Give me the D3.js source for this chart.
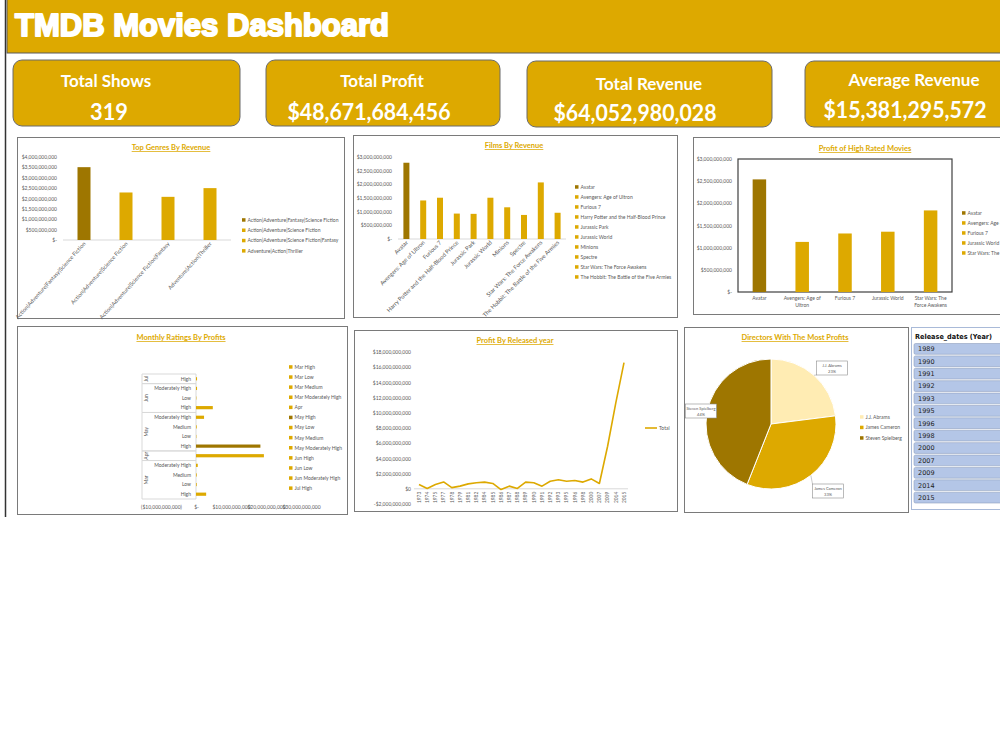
<!DOCTYPE html>
<html>
<head>
<meta charset="utf-8">
<script src="https://cdn.jsdelivr.net/npm/d3@7"></script>
<style>
  body { margin: 0; background: #fff; }
  text { font-family: Lato, "Open Sans", sans-serif; }
</style>
</head>
<body>
<div id="dash"></div>
<script>
// ---- data ----
const kpiLabels = ["Total Shows", "Total Profit", "Total Revenue", "Average Revenue"];
const kpiValues = ["319", "$48,671,684,456", "$64,052,980,028", "$15,381,295,572"];

const genreNames = ["Action|Adventure|Fantasy|Science Fiction", "Action|Adventure|Science Fiction",
    "Action|Adventure|Science Fiction|Fantasy", "Adventure|Action|Thriller"];
const genreRevenue = [3.51e9, 2.29e9, 2.08e9, 2.5e9];

const filmNames = ["Avatar", "Avengers: Age of Ultron", "Furious 7", "Harry Potter and the Half-Blood Prince",
    "Jurassic Park", "Jurassic World", "Minions", "Spectre", "Star Wars: The Force Awakens",
    "The Hobbit: The Battle of the Five Armies"];
const filmRevenue = [2.79e9, 1.41e9, 1.51e9, 0.93e9, 0.92e9, 1.51e9, 1.16e9, 0.88e9, 2.07e9, 0.96e9];

const highRatedNames = ["Avatar", "Avengers: Age of Ultron", "Furious 7", "Jurassic World", "Star Wars: The Force Awakens"];
const highRatedProfit = [2.54e9, 1.13e9, 1.32e9, 1.36e9, 1.84e9];

// bottom to top
const ratingMonths = ["Mar", "Mar", "Mar", "Mar", "Apr", "May", "May", "May", "May", "Jun", "Jun", "Jun", "Jul"];
const ratingLevels = ["High", "Low", "Medium", "Moderately High", "", "High", "Low", "Medium", "Moderately High",
    "High", "Low", "Moderately High", "High"];
const ratingProfit = [2.9e9, 0.2e9, 0.2e9, 0.5e9, 19.4e9, 18.4e9, 0.1e9, 0.2e9, 2.3e9, 4.8e9, 0.1e9, 0.3e9, 0.3e9];

const releaseYears = ["1973", "1974", "1975", "1977", "1978", "1979", "1981", "1982", "1984", "1985", "1986",
    "1987", "1988", "1989", "1990", "1991", "1992", "1993", "1995", "1996", "1998", "2000", "2007", "2009",
    "2014", "2015"];
const yearProfit = [0.57e9, 0.05e9, 0.57e9, 0.9e9, 0.15e9, 0.35e9, 0.65e9, 0.8e9, 0.88e9, 0.7e9, -0.1e9,
    0.35e9, 0.05e9, 0.88e9, 0.8e9, 0.35e9, 1.0e9, 1.2e9, 1.0e9, 1.1e9, 0.88e9, 1.3e9, 0.7e9, 5.6e9,
    11.3e9, 16.6e9];

const directorNames = ["J.J. Abrams", "James Cameron", "Steven Spielberg"];
const directorShare = [23, 33, 44];

const slicerYears = ["1989", "1990", "1991", "1992", "1993", "1995", "1996", "1998", "2000", "2007", "2009", "2014", "2015"];

// ---- styling ----
const GOLD = "#DDA900", DARK = "#9E7600", LIGHT = "#FFECB3", TXT = "#595959";
const fmt = d3.format(",");
const money = d => d === 0 ? "$-" : d < 0 ? "($" + fmt(-d) + ")" : "$" + fmt(d);
const money0 = d => d === 0 ? "$0" : d < 0 ? "-$" + fmt(-d) : "$" + fmt(d);

const svg = d3.select("#dash").append("svg")
    .attr("width", 1000)
    .attr("height", 750);

// left rule and header band
svg.append("line")
    .attr("x1", 5.5).attr("x2", 5.5).attr("y1", 0).attr("y2", 517)
    .attr("stroke", "#333").attr("stroke-width", 1.5);
svg.append("rect")
    .attr("x", 7).attr("y", -1).attr("width", 1000).attr("height", 54)
    .attr("fill", GOLD).attr("stroke", "#5a5a5a");
svg.append("text")
    .attr("x", 15).attr("y", 36)
    .attr("fill", "#fff").attr("stroke", "#fff").attr("stroke-width", 2).attr("stroke-linejoin", "round")
    .attr("font-size", 32).attr("font-weight", "bold")
    .style("font-family", "'Liberation Sans', Arial, sans-serif")
    .attr("textLength", 374).attr("lengthAdjust", "spacingAndGlyphs")
    .text("TMDB Movies Dashboard");

// KPI cards
const cardX = [13, 266, 527, 805], cardW = [227, 234, 245, 215], cardY = [60, 60, 61, 61];
const labelY = [87, 87, 90, 86], valueY = [120, 120, 121, 118];
const labelCx = [106, 382, 649, 914], valueCx = [109, 369, 635, 905];
kpiLabels.forEach((lab, i) => {
    svg.append("rect")
        .attr("x", cardX[i]).attr("y", cardY[i]).attr("width", cardW[i]).attr("height", 66)
        .attr("rx", 9).attr("fill", GOLD).attr("stroke", "#6b6b6b");
    svg.append("text")
        .attr("x", labelCx[i]).attr("y", labelY[i]).attr("text-anchor", "middle")
        .attr("fill", "#fff").attr("font-weight", "bold").attr("font-size", 17)
        .text(lab);
    svg.append("text")
        .attr("x", valueCx[i]).attr("y", valueY[i]).attr("text-anchor", "middle")
        .attr("fill", "#fff").attr("font-weight", "bold").attr("font-size", 23)
        .attr("textLength", i === 0 ? 38 : 163).attr("lengthAdjust", "spacingAndGlyphs")
        .text(kpiValues[i]);
});

function panel(x, y, w, h) {
    svg.append("rect").attr("x", x + 0.5).attr("y", y + 0.5).attr("width", w).attr("height", h)
        .attr("fill", "#fff").attr("stroke", "#7a7a7a");
}
function chartTitle(t, cx, y) {
    svg.append("text").attr("x", cx).attr("y", y).attr("text-anchor", "middle")
        .attr("fill", GOLD).attr("font-weight", "bold").attr("font-size", 7.5)
        .attr("text-decoration", "underline").text(t);
}
function legend(names, colors, lx, ly, step) {
    names.forEach((n, i) => {
        svg.append("rect").attr("x", lx).attr("y", ly + i * step - 1.8).attr("width", 3.5).attr("height", 3.5)
            .attr("fill", colors[i]);
        svg.append("text").attr("x", lx + 5.5).attr("y", ly + i * step + 1.8)
            .attr("font-size", 5).attr("fill", TXT).text(n);
    });
}
function styleAxis(g) {
    g.select(".domain").remove();
    g.attr("font-size", 5).attr("font-family", "Lato, sans-serif");
    g.selectAll("text").attr("fill", TXT);
}
function wrap(name, max) {
    const words = name.split(" "), lines = [];
    let cur = "";
    words.forEach(w => {
        if (cur && (cur + " " + w).length > max) { lines.push(cur); cur = w; }
        else cur = cur ? cur + " " + w : w;
    });
    lines.push(cur);
    return lines;
}

function barChart(c) {
    panel(...c.box);
    chartTitle(c.title, c.titleX, c.titleY);
    let x = d3.scaleBand().domain(c.names).range(c.xRange);
    let y = d3.scaleLinear().domain([0, c.yMax]).range(c.yRange);
    if (c.frame) {
        svg.append("rect").attr("x", c.xRange[0]).attr("y", c.yRange[1])
            .attr("width", c.xRange[1] - c.xRange[0]).attr("height", c.yRange[0] - c.yRange[1])
            .attr("fill", "none").attr("stroke", "#404040").attr("stroke-width", 1.2);
    } else {
        svg.append("line").attr("x1", c.xRange[0]).attr("x2", c.xRange[1])
            .attr("y1", y(0)).attr("y2", y(0)).attr("stroke", "#d9d9d9");
    }
    let ya = svg.append("g").attr("transform", `translate(${c.labelX},0)`)
        .call(d3.axisLeft(y).tickValues(d3.range(0, c.yMax + c.step / 2, c.step))
            .tickSize(0).tickPadding(0).tickFormat(money));
    styleAxis(ya);
    svg.append("g").selectAll("rect")
        .data(c.values)
        .join("rect")
        .attr("x", (d, i) => x(c.names[i]) + x.bandwidth() / 2 - c.barW / 2)
        .attr("y", d => y(d))
        .attr("width", c.barW)
        .attr("height", d => y(0) - y(d))
        .attr("fill", (d, i) => i === 0 ? DARK : GOLD);
    if (c.wrapLabels) {
        c.names.forEach(n => {
            let t = svg.append("text").attr("text-anchor", "middle").attr("font-size", 5).attr("fill", TXT);
            wrap(n, 16).forEach((line, k) => {
                t.append("tspan").attr("x", x(n) + x.bandwidth() / 2).attr("y", y(0) + 8 + k * 7).text(line);
            });
        });
    } else {
        c.names.forEach(n => {
            svg.append("text").attr("text-anchor", "end").attr("font-size", c.labelSize).attr("fill", TXT)
                .attr("transform", `translate(${x(n) + x.bandwidth() / 2 + 2},${y(0) + 4}) rotate(${-c.angle})`)
                .text(n);
        });
    }
    legend(c.names, c.names.map((n, i) => i === 0 ? DARK : GOLD), c.legendX, c.legendY, c.legendStep);
}

barChart({
    box: [17, 137, 327, 181], title: "Top Genres By Revenue", titleX: 171, titleY: 150,
    names: genreNames, values: genreRevenue, xRange: [63, 231], yRange: [240, 157],
    yMax: 4e9, step: 5e8, labelX: 57, barW: 13, angle: 48, labelSize: 5.6,
    legendX: 242, legendY: 220, legendStep: 10.3
});
barChart({
    box: [353, 135, 324, 182], title: "Films By Revenue", titleX: 514, titleY: 148,
    names: filmNames, values: filmRevenue, xRange: [398, 566], yRange: [239, 157],
    yMax: 3e9, step: 5e8, labelX: 392, barW: 6, angle: 45, labelSize: 5.8,
    legendX: 575, legendY: 187, legendStep: 10
});
barChart({
    box: [693, 137, 320, 177], title: "Profit of High Rated Movies", titleX: 865, titleY: 151,
    names: highRatedNames, values: highRatedProfit, xRange: [738, 952], yRange: [292, 159],
    yMax: 3e9, step: 5e8, labelX: 732, barW: 13.5, frame: true, wrapLabels: true,
    legendX: 962, legendY: 213, legendStep: 10
});

// ---- Monthly Ratings By Profits (horizontal bars, two-level category axis) ----
(function () {
    panel(17, 326, 330, 188);
    chartTitle("Monthly Ratings By Profits", 181, 340);
    const idx = ratingProfit.map((d, i) => i);
    const y = d3.scaleBand().domain(idx).range([499, 374]);
    const x = d3.scaleLinear().domain([-1e10, 3e10]).range([161, 301]);
    const left = 142;
    // group boxes
    const groups = Array.from(new Set(ratingMonths));
    groups.forEach(m => {
        const rows = idx.filter(i => ratingMonths[i] === m);
        const bottom = d3.max(rows, i => y(i) + y.bandwidth());
        const top = d3.min(rows, i => y(i));
        svg.append("path").attr("d", `M${x(0)},${top}H${left}V${bottom}H${x(0)}`)
            .attr("fill", "none").attr("stroke", "#d9d9d9");
        svg.append("text").attr("text-anchor", "middle").attr("font-size", 5).attr("fill", TXT)
            .attr("transform", `translate(${left + 6},${(top + bottom) / 2}) rotate(-90)`).text(m);
    });
    svg.append("line").attr("x1", x(0)).attr("x2", x(0)).attr("y1", 374).attr("y2", 499).attr("stroke", "#d9d9d9");
    idx.forEach(i => {
        svg.append("text").attr("x", 191).attr("y", y(i) + y.bandwidth() / 2 + 1.8)
            .attr("text-anchor", "end").attr("font-size", 5).attr("fill", TXT).text(ratingLevels[i]);
    });
    svg.append("g").selectAll("rect")
        .data(ratingProfit)
        .join("rect")
        .attr("x", x(0))
        .attr("y", (d, i) => y(i) + y.bandwidth() / 2 - 1.6)
        .attr("width", d => x(d) - x(0))
        .attr("height", 3.2)
        .attr("fill", (d, i) => ratingMonths[i] === "May" && ratingLevels[i] === "High" ? DARK : GOLD);
    const xa = svg.append("g").attr("transform", "translate(0,505)")
        .call(d3.axisBottom(x).tickValues(d3.range(-1e10, 3.1e10, 1e10)).tickSize(0).tickPadding(0).tickFormat(money));
    styleAxis(xa);
    const names = idx.map(i => ratingMonths[i] + (ratingLevels[i] ? " " + ratingLevels[i] : ""));
    legend(names, names.map(n => n === "May High" ? DARK : GOLD), 289, 367, 10.1);
})();

// ---- Profit By Released year (line) ----
(function () {
    panel(354, 330, 323, 181);
    chartTitle("Profit By Released year", 515, 343);
    const x = d3.scalePoint().domain(releaseYears).range([419, 624]);
    const y = d3.scaleLinear().domain([-2e9, 18e9]).range([504, 352]);
    const ya = svg.append("g").attr("transform", "translate(411,0)")
        .call(d3.axisLeft(y).tickValues(d3.range(-2e9, 18.1e9, 2e9)).tickSize(0).tickPadding(0).tickFormat(money0));
    styleAxis(ya);
    svg.append("line").attr("x1", 414).attr("x2", 628).attr("y1", y(0)).attr("y2", y(0)).attr("stroke", "#d9d9d9");
    releaseYears.forEach(yr => {
        svg.append("text").attr("text-anchor", "end").attr("font-size", 4.8).attr("fill", TXT)
            .attr("transform", `translate(${x(yr) + 1.7},${y(0) + 3}) rotate(-90)`).text(yr);
    });
    const line = d3.line().x((d, i) => x(releaseYears[i])).y(d => y(d));
    svg.append("path").datum(yearProfit).attr("d", line)
        .attr("fill", "none").attr("stroke", GOLD).attr("stroke-width", 1.6).attr("stroke-linejoin", "round");
    svg.append("line").attr("x1", 645).attr("x2", 657).attr("y1", 428).attr("y2", 428)
        .attr("stroke", GOLD).attr("stroke-width", 1.6);
    svg.append("text").attr("x", 659).attr("y", 430).attr("font-size", 5).attr("fill", TXT).text("Total");
})();

// ---- Directors With The Most Profits (pie) ----
(function () {
    panel(684, 327, 224, 185);
    chartTitle("Directors With The Most Profits", 795, 340);
    const cx = 771, cy = 424, r = 65;
    const colors = [LIGHT, GOLD, DARK];
    const arcs = d3.pie().sort(null)(directorShare);
    const arc = d3.arc().innerRadius(0).outerRadius(r);
    const g = svg.append("g").attr("transform", `translate(${cx},${cy})`);
    g.selectAll("path").data(arcs).join("path")
        .attr("d", arc).attr("fill", (d, i) => colors[i]).attr("stroke", "#fff").attr("stroke-width", 1);
    // callout boxes (offsets from the pie centre)
    const boxOff = [[61, -56], [57, 67], [-70, -13]];
    arcs.forEach((a, i) => {
        const mid = (a.startAngle + a.endAngle) / 2;
        const ex = Math.sin(mid) * r, ey = -Math.cos(mid) * r;
        const [bx, by] = boxOff[i];
        const bw = 31, bh = 14;
        const ax = bx + (ex > bx ? bw / 2 : -bw / 2), ay = by + (ey > by ? bh / 2 : -bh / 2);
        g.append("line").attr("x1", ex).attr("y1", ey).attr("x2", Math.abs(bx) > 65 ? bx + bw / 2 : ax).attr("y2", Math.abs(bx) > 65 ? by : ay)
            .attr("stroke", "#a6a6a6").attr("stroke-width", 0.6);
        g.append("rect").attr("x", bx - bw / 2).attr("y", by - bh / 2).attr("width", bw).attr("height", bh)
            .attr("fill", "#fff").attr("stroke", "#8c8c8c").attr("stroke-width", 0.6);
        g.append("text").attr("x", bx).attr("y", by - 1).attr("text-anchor", "middle")
            .attr("font-size", 4).attr("fill", TXT).text(directorNames[i]);
        g.append("text").attr("x", bx).attr("y", by + 4.8).attr("text-anchor", "middle")
            .attr("font-size", 4).attr("fill", TXT).text(directorShare[i] + "%");
    });
    legend(directorNames, colors, 860, 417, 10.5);
})();

// ---- Release year slicer ----
(function () {
    svg.append("rect").attr("x", 911.5).attr("y", 327.5).attr("width", 100).attr("height", 182)
        .attr("fill", "#fff").attr("stroke", "#a9bad8");
    svg.append("text").attr("x", 915).attr("y", 339).attr("font-size", 7).attr("font-weight", "bold")
        .attr("fill", "#111").style("font-family", "'DejaVu Sans', sans-serif")
        .attr("textLength", 77).attr("lengthAdjust", "spacingAndGlyphs").text("Release_dates (Year)");
    const y = d3.scaleBand().domain(slicerYears).range([343.5, 503]).paddingInner(0.13);
    svg.append("g").selectAll("rect").data(slicerYears).join("rect")
        .attr("x", 914).attr("y", d => y(d)).attr("width", 95).attr("height", y.bandwidth())
        .attr("rx", 1.5).attr("fill", "#B4C6E7").attr("stroke", "#8f9fbd").attr("stroke-width", 0.6);
    svg.append("g").selectAll("text").data(slicerYears).join("text")
        .attr("x", 918).attr("y", d => y(d) + y.bandwidth() / 2 + 2.3)
        .attr("font-size", 6.5).attr("fill", "#222").style("font-family", "'DejaVu Sans', sans-serif")
        .text(d => d);
})();
</script>
</body>
</html>
